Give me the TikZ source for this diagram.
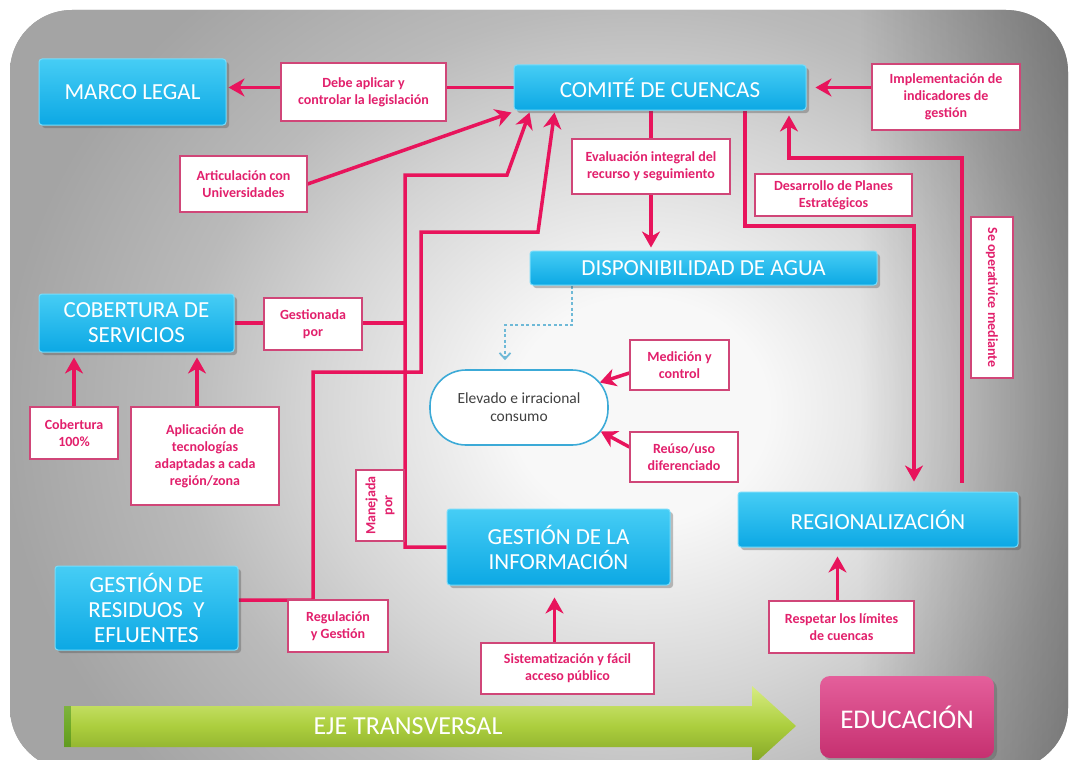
\documentclass[tikz,border=0pt]{standalone}
\usepackage{fontspec}
\setmainfont{Carlito}
\usetikzlibrary{arrows.meta,shadows,calc,fadings}
\definecolor{pk}{RGB}{232,20,92}
\definecolor{pktext}{RGB}{226,32,108}
\definecolor{pkborder}{RGB}{208,70,120}
\definecolor{bltop}{RGB}{70,205,245}
\definecolor{blbot}{RGB}{12,168,228}
\definecolor{blborder}{RGB}{120,220,250}
\definecolor{bgc0}{RGB}{248,248,248}
\definecolor{bgc1}{RGB}{212,212,212}
\definecolor{bgc2}{RGB}{186,186,186}
\definecolor{bgc3}{RGB}{164,164,164}
\definecolor{dotblue}{RGB}{110,185,215}
\definecolor{stadborder}{RGB}{60,170,215}
\definecolor{edtop}{RGB}{228,95,155}
\definecolor{edbot}{RGB}{198,48,112}
\definecolor{grtop}{RGB}{215,236,130}
\definecolor{grmid}{RGB}{172,206,62}
\definecolor{grbot}{RGB}{128,162,36}
\pgfdeclareradialshading{bgshade}{\pgfpoint{0bp}{0bp}}{color(0bp)=(bgc0); color(5bp)=(bgc0); color(13bp)=(bgc1); color(18bp)=(bgc2); color(25bp)=(bgc3); color(50bp)=(bgc3)}
\tikzfading[name=fadeR, left color=transparent!100, right color=transparent!0]
\pgfdeclarelayer{back}
\pgfdeclarelayer{lines}
\pgfsetlayers{back,lines,main}
\begin{document}
\begin{tikzpicture}[x=1pt,y=-1pt,
  bluebox/.style={rectangle, rounded corners=3pt, top color=bltop, bottom color=blbot,
    draw=blborder, line width=1pt, text=white, font=\fontsize{23}{25}\selectfont,
    align=center, inner sep=0pt,
    drop shadow={shadow xshift=3pt, shadow yshift=-3pt, opacity=0.35, fill=black!70}},
  lbl/.style={rectangle, fill=white, draw=pkborder, line width=1.2pt, text=pktext,
    font=\bfseries\fontsize{14}{17}\selectfont, align=center, inner sep=0pt},
  conn/.style={draw=pk, line width=3.5pt},
  arr/.style={conn, -{Stealth[length=16pt,width=18pt,inset=5pt]}},
  dots/.style={draw=dotblue, line width=1.8pt, dash pattern=on 3pt off 2.5pt,
    -{Straight Barb[length=6pt,width=11pt]}}
]
\useasboundingbox (0,0) rectangle (1074,760);
% background
\begin{pgfonlayer}{back}
  \begin{scope}
    \clip[rounded corners=62pt] (10,10) rectangle (1068,770);
    \fill[bgc3] (0,0) rectangle (1074,780);
    \shade[shading=bgshade] (0,-150) rectangle (1280,970);
    \fill[black,opacity=0.3,path fading=fadeR] (860,0) rectangle (1074,780);
  \end{scope}
\end{pgfonlayer}

% blue boxes
\node[bluebox, minimum width=187, minimum height=66] (marco) at (132.5,92) {MARCO LEGAL};
\node[bluebox, minimum width=292, minimum height=45] (comite) at (660,87.5) {COMITÉ DE CUENCAS};
\node[bluebox, minimum width=347, minimum height=34] (disp) at (703.5,268) {DISPONIBILIDAD DE AGUA};
\node[bluebox, minimum width=195, minimum height=58] (cob) at (136.5,323) {COBERTURA DE\\SERVICIOS};
\node[bluebox, minimum width=223, minimum height=76] (ginfo) at (558.5,547) {GESTIÓN DE LA\\INFORMACIÓN};
\node[bluebox, minimum width=280, minimum height=55] (regio) at (878,519.5) {REGIONALIZACIÓN};
\node[bluebox, minimum width=183, minimum height=84] (resid) at (146.5,608) {GESTIÓN DE\\RESIDUOS\ \ Y\\EFLUENTES};

% education
\node[rectangle, rounded corners=10pt, top color=edtop, bottom color=edbot, text=white,
  font=\fontsize{27}{30}\selectfont, minimum width=174, minimum height=82, inner sep=0pt,
  drop shadow={shadow xshift=3pt, shadow yshift=-3pt, opacity=0.3, fill=black!70}] (educ) at (907,717) {EDUCACIÓN};

% green arrow
\shade[top color=grtop, bottom color=grbot, middle color=grmid]
  (64,706) -- (752,706) -- (752,686) -- (796,726) -- (752,766) -- (752,747) -- (64,747) -- cycle;
\fill[black!60!green, opacity=0.35] (64,706) rectangle (71,747);
\node[text=white, font=\fontsize{26}{28}\selectfont] (eje) at (408,726) {EJE TRANSVERSAL};

% labels
\node[lbl, minimum width=165, minimum height=58] (debe) at (363.5,92) {Debe aplicar y\\controlar la legislación};
\node[lbl, minimum width=127, minimum height=56] (artic) at (243.5,184) {Articulación con\\Universidades};
\node[lbl, minimum width=158, minimum height=55] (eval) at (651,166.5) {Evaluación integral del\\recurso y seguimiento};
\node[lbl, minimum width=157, minimum height=42] (desa) at (833.5,195) {Desarrollo de Planes\\Estratégicos};
\node[lbl, minimum width=148, minimum height=66] (impl) at (946,97) {Implementación de\\indicadores de\\gestión};
\node[lbl, rotate=-90, minimum width=161, minimum height=42] (seop) at (992,297.5) {Se operativice mediante};
\node[lbl, minimum width=98, minimum height=52] (gest) at (313,324) {Gestionada\\por};
\node[lbl, minimum width=88, minimum height=52] (c100) at (74,433) {Cobertura\\100\%};
\node[lbl, minimum width=148, minimum height=98] (apl) at (205,456) {Aplicación de\\tecnologías\\adaptadas a cada\\región/zona};
\node[lbl, minimum width=99, minimum height=50] (med) at (679.5,365) {Medición y\\control};
\node[lbl, minimum width=108, minimum height=50] (reuso) at (684,457) {Reúso/uso\\diferenciado};
\node[lbl, rotate=90, minimum width=71, minimum height=48] (manej) at (380,505.5) {Manejada\\por};
\node[lbl, minimum width=100, minimum height=52] (regul) at (338,626) {Regulación\\y Gestión};
\node[lbl, minimum width=173, minimum height=51] (sist) at (567.5,668.5) {Sistematización y fácil\\acceso público};
\node[lbl, minimum width=145, minimum height=52] (resp) at (841.5,627) {Respetar los límites\\de cuencas};

% stadium
\node[rectangle, rounded corners=36pt, fill=white, draw=stadborder, line width=1.6pt,
  minimum width=178, minimum height=75, align=center, inner sep=0pt, text=black!75,
  font=\fontsize{15.5}{18}\selectfont] (stad) at (519,407.5) {Elevado e irracional\\consumo};

% connectors
\coordinate (ja) at (405,175);
\coordinate (jb) at (507,175);
\coordinate (ka) at (313,600);
\coordinate (kb) at (313,372);
\coordinate (kc) at (421,372);
\coordinate (kd) at (421,232);
\coordinate (ke) at (538,232);
\coordinate (da) at (745,226);
\coordinate (db) at (914,226);
\coordinate (sa) at (962,158);
\coordinate (sb) at (789,158);
\coordinate (ap) at ([xshift=-8pt]apl.north);
\coordinate (sp) at ([xshift=-13pt]sist.north);
\coordinate (rp) at ([xshift=-4pt]resp.north);
\coordinate (dd1) at (572,325);
\coordinate (dd2) at (505,325);
\begin{pgfonlayer}{lines}
  \draw[arr, shorten >=2pt] (comite.west) -- (comite.west -| marco.east);
  \draw[arr] (artic.east) -- ([shift={(-2,2)}]comite.south west);
  \draw[arr] (ginfo.west) -- (ginfo.west -| ja) -- (ja) -- (jb) -- ([shift={(16,2)}]comite.south west);
  \draw[conn] (cob.east) -- (cob.east -| ja);
  \draw[arr] (resid.east |- ka) -- (ka) -- (kb) -- (kc) -- (kd) -- (ke) -- ([shift={(41,2)}]comite.south west);
  \draw[arr, shorten >=3pt] (comite.south -| eval.north) -- (disp.north -| eval.north);
  \draw[arr, shorten >=10pt] (comite.south -| da) -- (da) -- (db) -- (db |- regio.north);
  \draw[arr, shorten <=9pt, shorten >=5pt] (regio.north -| sa) -- (sa) -- (sb) -- (sb |- comite.south);
  \draw[arr, shorten >=9pt] (comite.east -| impl.west) -- (comite.east);
  \draw[arr, shorten >=5pt] (c100.north) -- (c100.north |- cob.south);
  \draw[arr, shorten >=5pt] (ap) -- (ap |- cob.south);
  \draw[arr] ([shift={(0,8)}]med.west) -- ([shift={(-9,-25)}]stad.east);
  \draw[arr] ([shift={(0,-10)}]reuso.west) -- ([shift={(-8,24)}]stad.east);
  \draw[arr, shorten >=12pt] (sp) -- (sp |- ginfo.south);
  \draw[arr, shorten >=9pt] (rp) -- (rp |- regio.south);
  \draw[dots, shorten >=9pt] (disp.south -| dd1) -- (dd1) -- (dd2) -- (dd2 |- stad.north);
\end{pgfonlayer}
\end{tikzpicture}
\end{document}
